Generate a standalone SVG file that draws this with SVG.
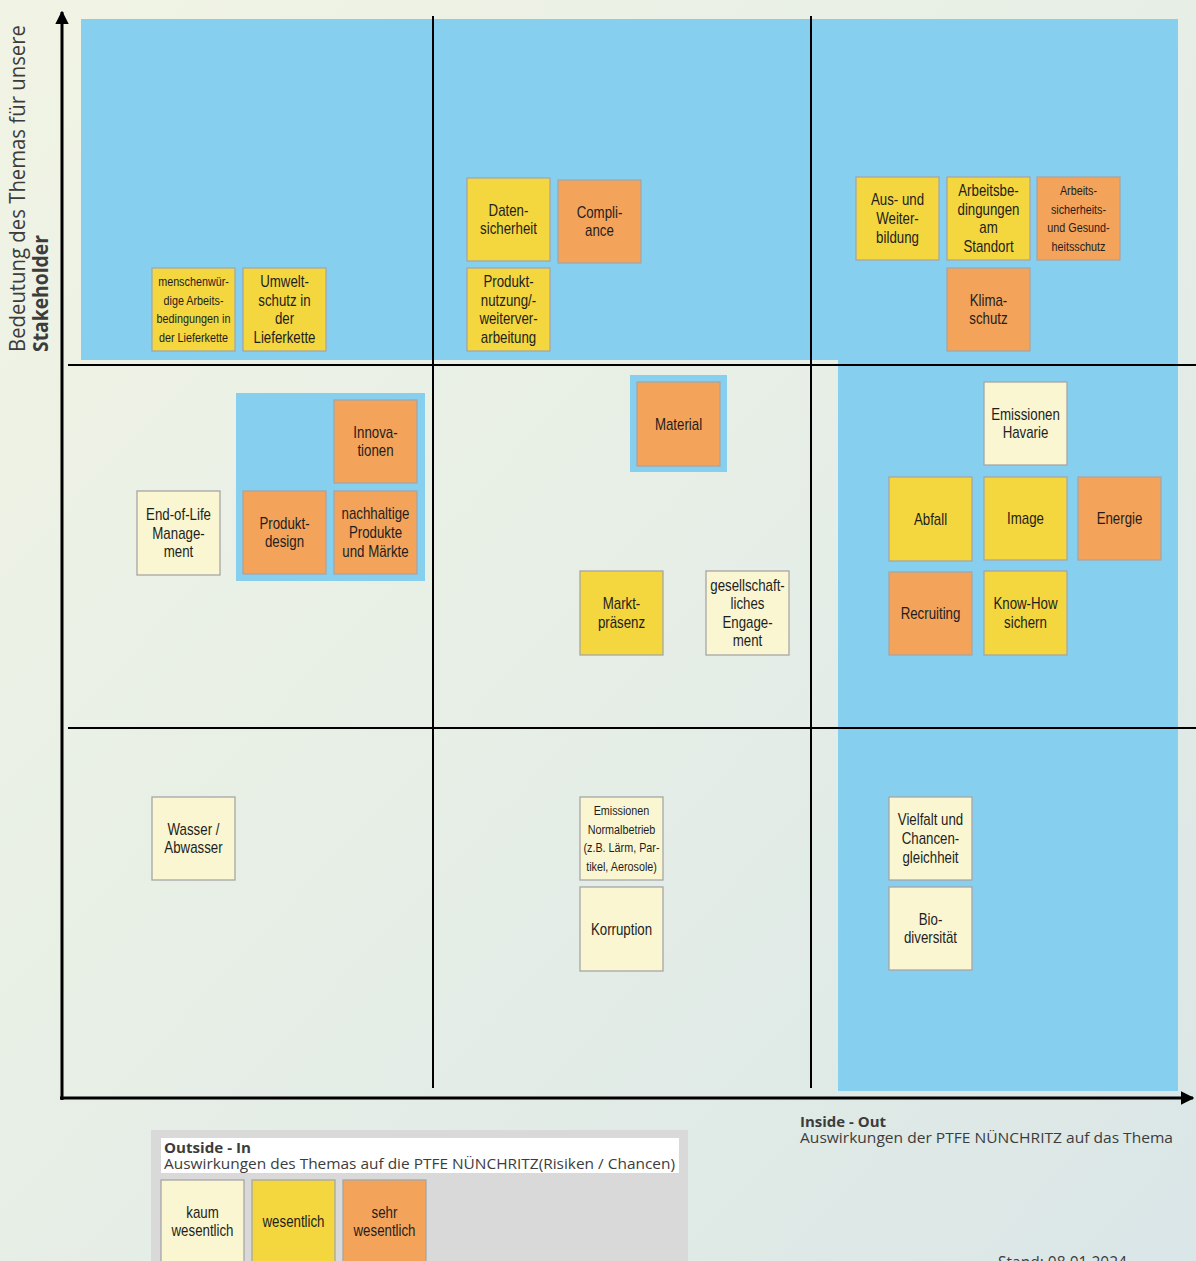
<svg xmlns="http://www.w3.org/2000/svg" width="1196" height="1261" viewBox="0 0 1196 1261">
<defs>
<linearGradient id="bg" x1="0" y1="0" x2="1" y2="1">
<stop offset="0" stop-color="#f1f4e4"/>
<stop offset="0.5" stop-color="#e6eee6"/>
<stop offset="1" stop-color="#dae6e7"/>
</linearGradient>
<marker id="arr" viewBox="0 0 10 10" refX="9" refY="5" markerWidth="4.5" markerHeight="4.5" orient="auto" markerUnits="strokeWidth">
<path d="M0,0 L10,5 L0,10 Z" fill="#000"/>
</marker>
</defs>
<style>
.y{fill:#f4d63e}
.o{fill:#f4a35a}
.p{fill:#faf6d1}
.box{stroke:#a6a6a6;stroke-width:1.3}
.t{font-family:"Liberation Sans Narrow","Arial Narrow","Liberation Sans",Arial,sans-serif;font-size:16px;fill:#1e1e1e;text-anchor:middle}
.s{font-size:13px}
.blue{fill:#87cfef}
.grid{stroke:#000;stroke-width:2;fill:none}
.axis{stroke:#000;stroke-width:3;fill:none}
.lab{font-family:"Open Sans","Noto Sans",sans-serif;fill:#3c3c3c}
.b{font-weight:bold}
</style>
<rect x="0" y="0" width="1196" height="1261" fill="url(#bg)"/>
<g id="zones">
<path class="blue" d="M81,19 H1178 V1091 H838 V360 H81 Z"/>
<rect class="blue" x="236" y="393" width="189" height="188"/>
<rect class="blue" x="630" y="375" width="97" height="97"/>
</g>
<g id="connectors">
<line class="grid" x1="433" y1="16" x2="433" y2="1088"/>
<line class="grid" x1="811" y1="16" x2="811" y2="1088"/>
<line class="grid" x1="68" y1="365" x2="1196" y2="365"/>
<line class="grid" x1="68" y1="728" x2="1196" y2="728"/>
<line class="axis" x1="62" y1="1100" x2="62" y2="12" marker-end="url(#arr)"/>
<line class="axis" x1="60" y1="1098" x2="1193" y2="1098" marker-end="url(#arr)"/>
</g>
<g id="axis-labels">
<text class="lab" font-size="21" transform="translate(24.5,352) rotate(-90)" textLength="327" lengthAdjust="spacingAndGlyphs">Bedeutung des Themas für unsere</text>
<text class="lab b" font-size="21" transform="translate(48,352) rotate(-90)" textLength="117" lengthAdjust="spacingAndGlyphs">Stakeholder</text>
<text class="lab b" font-size="15" x="800" y="1127" textLength="86" lengthAdjust="spacingAndGlyphs">Inside - Out</text>
<text class="lab" font-size="15" x="800" y="1143" textLength="373" lengthAdjust="spacingAndGlyphs">Auswirkungen der PTFE NÜNCHRITZ auf das Thema</text>
<text class="lab" font-size="16" x="998" y="1268" textLength="129" lengthAdjust="spacingAndGlyphs">Stand: 08.01.2024</text>
</g>
<g id="legend">
<rect x="151" y="1130" width="537" height="140" fill="#d9d9d9"/>
<rect x="161" y="1138" width="518" height="35" fill="#ffffff"/>
<text class="lab b" font-size="15" x="164" y="1153" textLength="87" lengthAdjust="spacingAndGlyphs">Outside - In</text>
<text class="lab" font-size="15" x="164" y="1169" textLength="511" lengthAdjust="spacingAndGlyphs">Auswirkungen des Themas auf die PTFE NÜNCHRITZ(Risiken / Chancen)</text>
<g id="legend-kaum"><rect class="box p" x="161" y="1180" width="83" height="83"/><text class="t" transform="translate(202.5,1221.5) scale(0.83 1)"><tspan x="0" y="-3.8">kaum</tspan><tspan x="0" y="14.8">wesentlich</tspan></text></g>
<g id="legend-wesentlich"><rect class="box y" x="252" y="1180" width="83" height="83"/><text class="t" transform="translate(293.5,1221.5) scale(0.83 1)"><tspan x="0" y="5.5">wesentlich</tspan></text></g>
<g id="legend-sehr"><rect class="box o" x="343" y="1180" width="83" height="83"/><text class="t" transform="translate(384.5,1221.5) scale(0.83 1)"><tspan x="0" y="-3.8">sehr</tspan><tspan x="0" y="14.8">wesentlich</tspan></text></g>
</g>
<g id="n-menschenwuerdig"><rect class="box y" x="152" y="268" width="83" height="83"/><text class="t s" transform="translate(193.5,309.5) scale(0.83 1)"><tspan x="0" y="-23.5">menschenwür-</tspan><tspan x="0" y="-4.8">dige Arbeits-</tspan><tspan x="0" y="13.9">bedingungen in</tspan><tspan x="0" y="32.6">der Lieferkette</tspan></text></g>
<g id="n-umweltschutz"><rect class="box y" x="243" y="268" width="83" height="83"/><text class="t" transform="translate(284.5,309.5) scale(0.83 1)"><tspan x="0" y="-22.4">Umwelt-</tspan><tspan x="0" y="-3.8">schutz in</tspan><tspan x="0" y="14.8">der</tspan><tspan x="0" y="33.4">Lieferkette</tspan></text></g>
<g id="n-datensicherheit"><rect class="box y" x="467" y="178" width="83" height="83"/><text class="t" transform="translate(508.5,219.5) scale(0.83 1)"><tspan x="0" y="-3.8">Daten-</tspan><tspan x="0" y="14.8">sicherheit</tspan></text></g>
<g id="n-compliance"><rect class="box o" x="558" y="180" width="83" height="83"/><text class="t" transform="translate(599.5,221.5) scale(0.83 1)"><tspan x="0" y="-3.8">Compli-</tspan><tspan x="0" y="14.8">ance</tspan></text></g>
<g id="n-produktnutzung"><rect class="box y" x="467" y="268" width="83" height="83"/><text class="t" transform="translate(508.5,309.5) scale(0.83 1)"><tspan x="0" y="-22.4">Produkt-</tspan><tspan x="0" y="-3.8">nutzung/-</tspan><tspan x="0" y="14.8">weiterver-</tspan><tspan x="0" y="33.4">arbeitung</tspan></text></g>
<g id="n-weiterbildung"><rect class="box y" x="856" y="177" width="83" height="83"/><text class="t" transform="translate(897.5,218.5) scale(0.83 1)"><tspan x="0" y="-13.1">Aus- und</tspan><tspan x="0" y="5.5">Weiter-</tspan><tspan x="0" y="24.1">bildung</tspan></text></g>
<g id="n-arbeitsbedingungen"><rect class="box y" x="947" y="177" width="83" height="83"/><text class="t" transform="translate(988.5,218.5) scale(0.83 1)"><tspan x="0" y="-22.4">Arbeitsbe-</tspan><tspan x="0" y="-3.8">dingungen</tspan><tspan x="0" y="14.8">am</tspan><tspan x="0" y="33.4">Standort</tspan></text></g>
<g id="n-arbeitssicherheit"><rect class="box o" x="1037" y="177" width="83" height="83"/><text class="t s" transform="translate(1078.5,218.5) scale(0.83 1)"><tspan x="0" y="-23.5">Arbeits-</tspan><tspan x="0" y="-4.8">sicherheits-</tspan><tspan x="0" y="13.9">und Gesund-</tspan><tspan x="0" y="32.6">heitsschutz</tspan></text></g>
<g id="n-klimaschutz"><rect class="box o" x="947" y="268" width="83" height="83"/><text class="t" transform="translate(988.5,309.5) scale(0.83 1)"><tspan x="0" y="-3.8">Klima-</tspan><tspan x="0" y="14.8">schutz</tspan></text></g>
<g id="n-innovationen"><rect class="box o" x="334" y="400" width="83" height="83"/><text class="t" transform="translate(375.5,441.5) scale(0.83 1)"><tspan x="0" y="-3.8">Innova-</tspan><tspan x="0" y="14.8">tionen</tspan></text></g>
<g id="n-produktdesign"><rect class="box o" x="243" y="491" width="83" height="83"/><text class="t" transform="translate(284.5,532.5) scale(0.83 1)"><tspan x="0" y="-3.8">Produkt-</tspan><tspan x="0" y="14.8">design</tspan></text></g>
<g id="n-nachhaltige"><rect class="box o" x="334" y="491" width="83" height="83"/><text class="t" transform="translate(375.5,532.5) scale(0.83 1)"><tspan x="0" y="-13.1">nachhaltige</tspan><tspan x="0" y="5.5">Produkte</tspan><tspan x="0" y="24.1">und Märkte</tspan></text></g>
<g id="n-endoflife"><rect class="box p" x="137" y="491" width="83" height="84"/><text class="t" transform="translate(178.5,533) scale(0.83 1)"><tspan x="0" y="-13.1">End-of-Life</tspan><tspan x="0" y="5.5">Manage-</tspan><tspan x="0" y="24.1">ment</tspan></text></g>
<g id="n-material"><rect class="box o" x="637" y="382" width="83" height="84"/><text class="t" transform="translate(678.5,424) scale(0.83 1)"><tspan x="0" y="5.5">Material</tspan></text></g>
<g id="n-marktpraesenz"><rect class="box y" x="580" y="571" width="83" height="84"/><text class="t" transform="translate(621.5,613) scale(0.83 1)"><tspan x="0" y="-3.8">Markt-</tspan><tspan x="0" y="14.8">präsenz</tspan></text></g>
<g id="n-engagement"><rect class="box p" x="706" y="571" width="83" height="84"/><text class="t" transform="translate(747.5,613) scale(0.83 1)"><tspan x="0" y="-22.4">gesellschaft-</tspan><tspan x="0" y="-3.8">liches</tspan><tspan x="0" y="14.8">Engage-</tspan><tspan x="0" y="33.4">ment</tspan></text></g>
<g id="n-havarie"><rect class="box p" x="984" y="382" width="83" height="83"/><text class="t" transform="translate(1025.5,423.5) scale(0.83 1)"><tspan x="0" y="-3.8">Emissionen</tspan><tspan x="0" y="14.8">Havarie</tspan></text></g>
<g id="n-abfall"><rect class="box y" x="889" y="477" width="83" height="84"/><text class="t" transform="translate(930.5,519) scale(0.83 1)"><tspan x="0" y="5.5">Abfall</tspan></text></g>
<g id="n-image"><rect class="box y" x="984" y="477" width="83" height="83"/><text class="t" transform="translate(1025.5,518.5) scale(0.83 1)"><tspan x="0" y="5.5">Image</tspan></text></g>
<g id="n-energie"><rect class="box o" x="1078" y="477" width="83" height="83"/><text class="t" transform="translate(1119.5,518.5) scale(0.83 1)"><tspan x="0" y="5.5">Energie</tspan></text></g>
<g id="n-recruiting"><rect class="box o" x="889" y="572" width="83" height="83"/><text class="t" transform="translate(930.5,613.5) scale(0.83 1)"><tspan x="0" y="5.5">Recruiting</tspan></text></g>
<g id="n-knowhow"><rect class="box y" x="984" y="571" width="83" height="84"/><text class="t" transform="translate(1025.5,613) scale(0.83 1)"><tspan x="0" y="-3.8">Know-How</tspan><tspan x="0" y="14.8">sichern</tspan></text></g>
<g id="n-wasser"><rect class="box p" x="152" y="797" width="83" height="83"/><text class="t" transform="translate(193.5,838.5) scale(0.83 1)"><tspan x="0" y="-3.8">Wasser /</tspan><tspan x="0" y="14.8">Abwasser</tspan></text></g>
<g id="n-normalbetrieb"><rect class="box p" x="580" y="797" width="83" height="83"/><text class="t s" transform="translate(621.5,838.5) scale(0.83 1)"><tspan x="0" y="-24">Emissionen</tspan><tspan x="0" y="-5">Normalbetrieb</tspan><tspan x="0" y="14">(z.B. Lärm, Par-</tspan><tspan x="0" y="33">tikel, Aerosole)</tspan></text></g>
<g id="n-korruption"><rect class="box p" x="580" y="887" width="83" height="84"/><text class="t" transform="translate(621.5,929) scale(0.83 1)"><tspan x="0" y="5.5">Korruption</tspan></text></g>
<g id="n-vielfalt"><rect class="box p" x="889" y="797" width="83" height="83"/><text class="t" transform="translate(930.5,838.5) scale(0.83 1)"><tspan x="0" y="-13.1">Vielfalt und</tspan><tspan x="0" y="5.5">Chancen-</tspan><tspan x="0" y="24.1">gleichheit</tspan></text></g>
<g id="n-biodiversitaet"><rect class="box p" x="889" y="887" width="83" height="83"/><text class="t" transform="translate(930.5,928.5) scale(0.83 1)"><tspan x="0" y="-3.8">Bio-</tspan><tspan x="0" y="14.8">diversität</tspan></text></g>
</svg>
